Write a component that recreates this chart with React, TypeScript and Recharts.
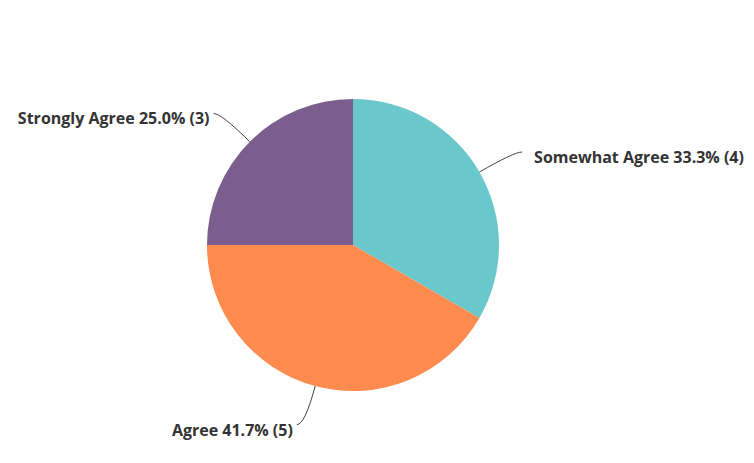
import { PieChart, Pie, Cell } from 'recharts';

const categories = ['Somewhat Agree', 'Agree', 'Strongly Agree'];
const percents = [33.3, 41.7, 25.0];
const counts = [4, 5, 3];
const colors = ['#6AC8CC', '#FF8B4F', '#7C5E8E'];

const data = categories.map((name, i) => ({
  name,
  pct: percents[i],
  count: counts[i],
}));

const RAD = Math.PI / 180;

const renderLabel = (props: any) => {
  const { cx, cy, midAngle, outerRadius, index } = props;
  const cos = Math.cos(-midAngle * RAD);
  const sin = Math.sin(-midAngle * RAD);
  const x0 = cx + outerRadius * cos;
  const y0 = cy + outerRadius * sin;
  const x1 = cx + (outerRadius + 40) * cos;
  const y1 = cy + (outerRadius + 40) * sin;
  const right = cos >= 0;
  const x2 = x1 + (right ? 8 : -8);
  const d = data[index];
  return (
    <g>
      <path
        d={`M${x0},${y0} Q${x1},${y1} ${x2},${y1}`}
        stroke="#444"
        strokeWidth={1}
        fill="none"
      />
      <text
        x={x2 + (right ? 12 : -4)}
        y={y1 + 5}
        textAnchor={right ? 'start' : 'end'}
        dominantBaseline="central"
        fill="#333"
        fontSize={16}
        fontWeight={700}
        fontFamily="'Open Sans', sans-serif"
      >
        {`${d.name} ${d.pct.toFixed(1)}% (${d.count})`}
      </text>
    </g>
  );
};

export default function App() {
  return (
    <div style={{ position: 'absolute', left: 0, top: 0, background: '#fff' }}>
      <PieChart width={754} height={463} margin={{ top: 0, right: 0, bottom: 0, left: 0 }}>
        <Pie
          data={data}
          dataKey="count"
          cx={353}
          cy={245}
          outerRadius={146}
          startAngle={90}
          endAngle={-270}
          stroke="none"
          label={renderLabel}
          labelLine={false}
          isAnimationActive={false}
        >
          {data.map((d, i) => (
            <Cell key={d.name} fill={colors[i]} />
          ))}
        </Pie>
      </PieChart>
    </div>
  );
}
